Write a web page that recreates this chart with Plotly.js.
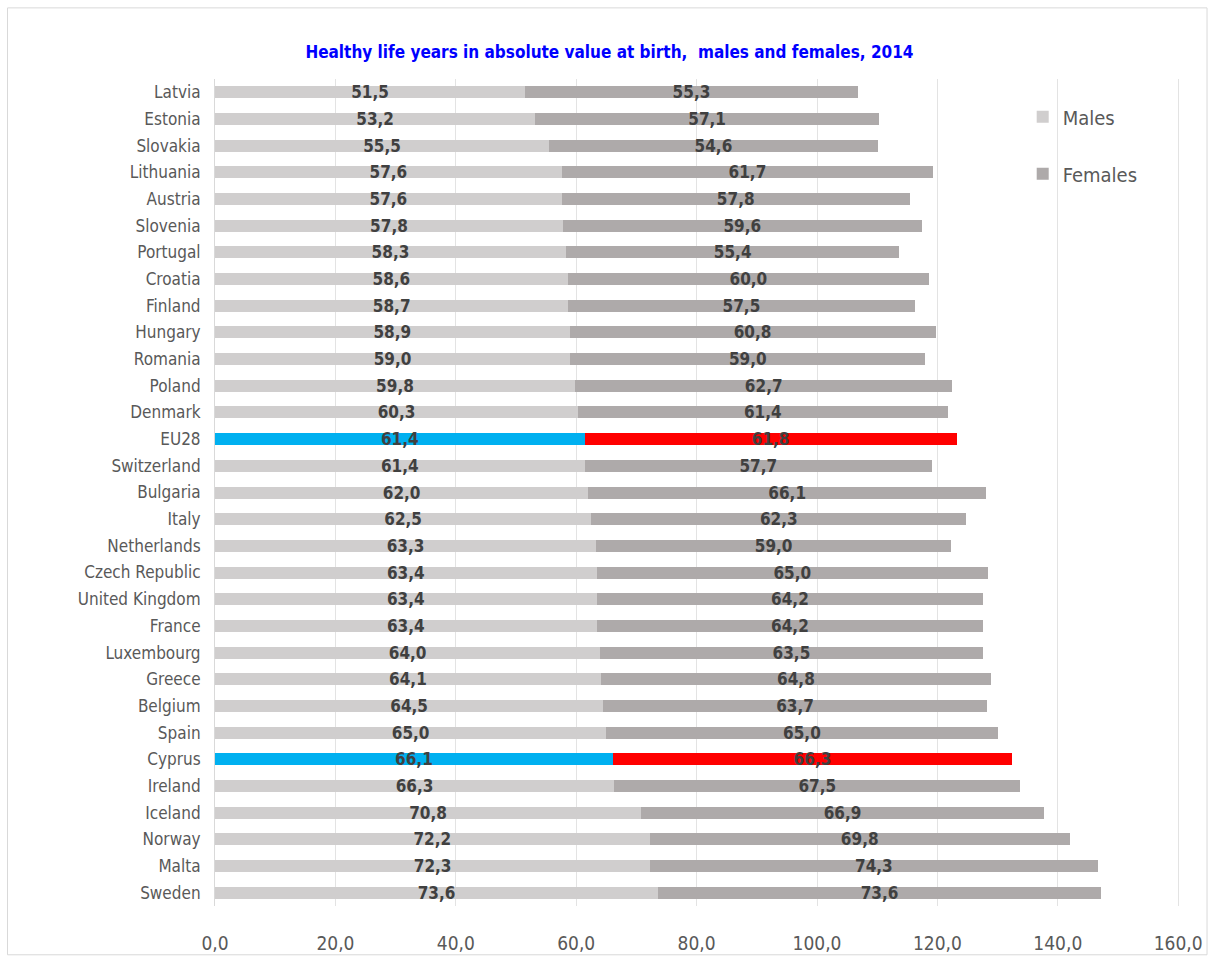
<!DOCTYPE html>
<html>
<head>
<meta charset="utf-8">
<script src="https://cdn.plot.ly/plotly-3.0.1.min.js"></script>
<style>html,body{margin:0;padding:0;background:#fff;}#chart{width:1214px;height:963px;}</style>
</head>
<body>
<div id="chart"></div>
<script>
const countries = ["Latvia","Estonia","Slovakia","Lithuania","Austria","Slovenia","Portugal","Croatia","Finland","Hungary","Romania","Poland","Denmark","EU28","Switzerland","Bulgaria","Italy","Netherlands","Czech Republic","United Kingdom","France","Luxembourg","Greece","Belgium","Spain","Cyprus","Ireland","Iceland","Norway","Malta","Sweden"];
const males = [51.5,53.2,55.5,57.6,57.6,57.8,58.3,58.6,58.7,58.9,59.0,59.8,60.3,61.4,61.4,62.0,62.5,63.3,63.4,63.4,63.4,64.0,64.1,64.5,65.0,66.1,66.3,70.8,72.2,72.3,73.6];
const females = [55.3,57.1,54.6,61.7,57.8,59.6,55.4,60.0,57.5,60.8,59.0,62.7,61.4,61.8,57.7,66.1,62.3,59.0,65.0,64.2,64.2,63.5,64.8,63.7,65.0,66.3,67.5,66.9,69.8,74.3,73.6];
const highlighted = ["EU28","Cyprus"];
const xTicks = [0,20,40,60,80,100,120,140,160];

const FONT = "'DejaVu Sans Condensed','Liberation Sans Narrow',sans-serif";
const maleColors = countries.map(c => highlighted.includes(c) ? "#00B0F0" : "#D0CECE");
const femaleColors = countries.map(c => highlighted.includes(c) ? "#FF0000" : "#AEAAAA");

const labelFont = {family: FONT, size: 17, color: "#404040"};

const traces = [
  {type:"bar", orientation:"h", name:"Males", y:countries, x:males,
   marker:{color:maleColors}, legendgroup:"m",
   texttemplate:"<b>%{x:.1f}</b>", textposition:"inside", insidetextanchor:"middle",
   textangle:0, constraintext:"none", insidetextfont:labelFont, hoverinfo:"x+y"},
  {type:"bar", orientation:"h", name:"Females", y:countries, x:females,
   marker:{color:femaleColors}, legendgroup:"f",
   texttemplate:"<b>%{x:.1f}</b>", textposition:"inside", insidetextanchor:"middle",
   textangle:0, constraintext:"none", insidetextfont:labelFont, hoverinfo:"x+y"}
];

const layout = {
  width:1214, height:963,
  barmode:"stack", bargap:0.55,
  separators:", ",
  paper_bgcolor:"#fff", plot_bgcolor:"#fff",
  margin:{l:215, r:34, t:79, b:57},
  font:{family:FONT, color:"#595959"},
  title:{text:"<b>Healthy life years in absolute value at birth,  males and females, 2014</b>",
         font:{family:FONT, size:17, color:"#0000FF"}, x:0.502, xref:"container", y:0.946, yref:"container", yanchor:"middle"},
  xaxis:{range:[0,160.3], tickvals:xTicks, tickformat:".1f", showgrid:true, gridcolor:"#E3E3E3",
         zeroline:false, showline:false, ticks:"", ticklabelstandoff:24,
         tickfont:{family:FONT, size:19, color:"#595959"}, fixedrange:true},
  yaxis:{autorange:"reversed", type:"category", showgrid:false, zeroline:false,
         showline:true, linecolor:"#D9D9D9", ticks:"", ticklabelstandoff:10,
         tickfont:{family:FONT, size:17, color:"#595959"}, fixedrange:true},
  legend:{x:0.837, y:0.978, xanchor:"left", yanchor:"top", font:{family:FONT, size:20, color:"#595959"},
          bgcolor:"rgba(0,0,0,0)", tracegroupgap:28, traceorder:"grouped"},
  shapes:[{type:"rect", xref:"paper", yref:"paper", x0:-0.215, x1:1.028, y0:-0.059, y1:1.086,
           line:{color:"#D9D9D9", width:1}, fillcolor:"rgba(0,0,0,0)", layer:"below"}]
};

Plotly.newPlot("chart", traces, layout, {displayModeBar:false, staticPlot:true});
</script>
</body>
</html>
